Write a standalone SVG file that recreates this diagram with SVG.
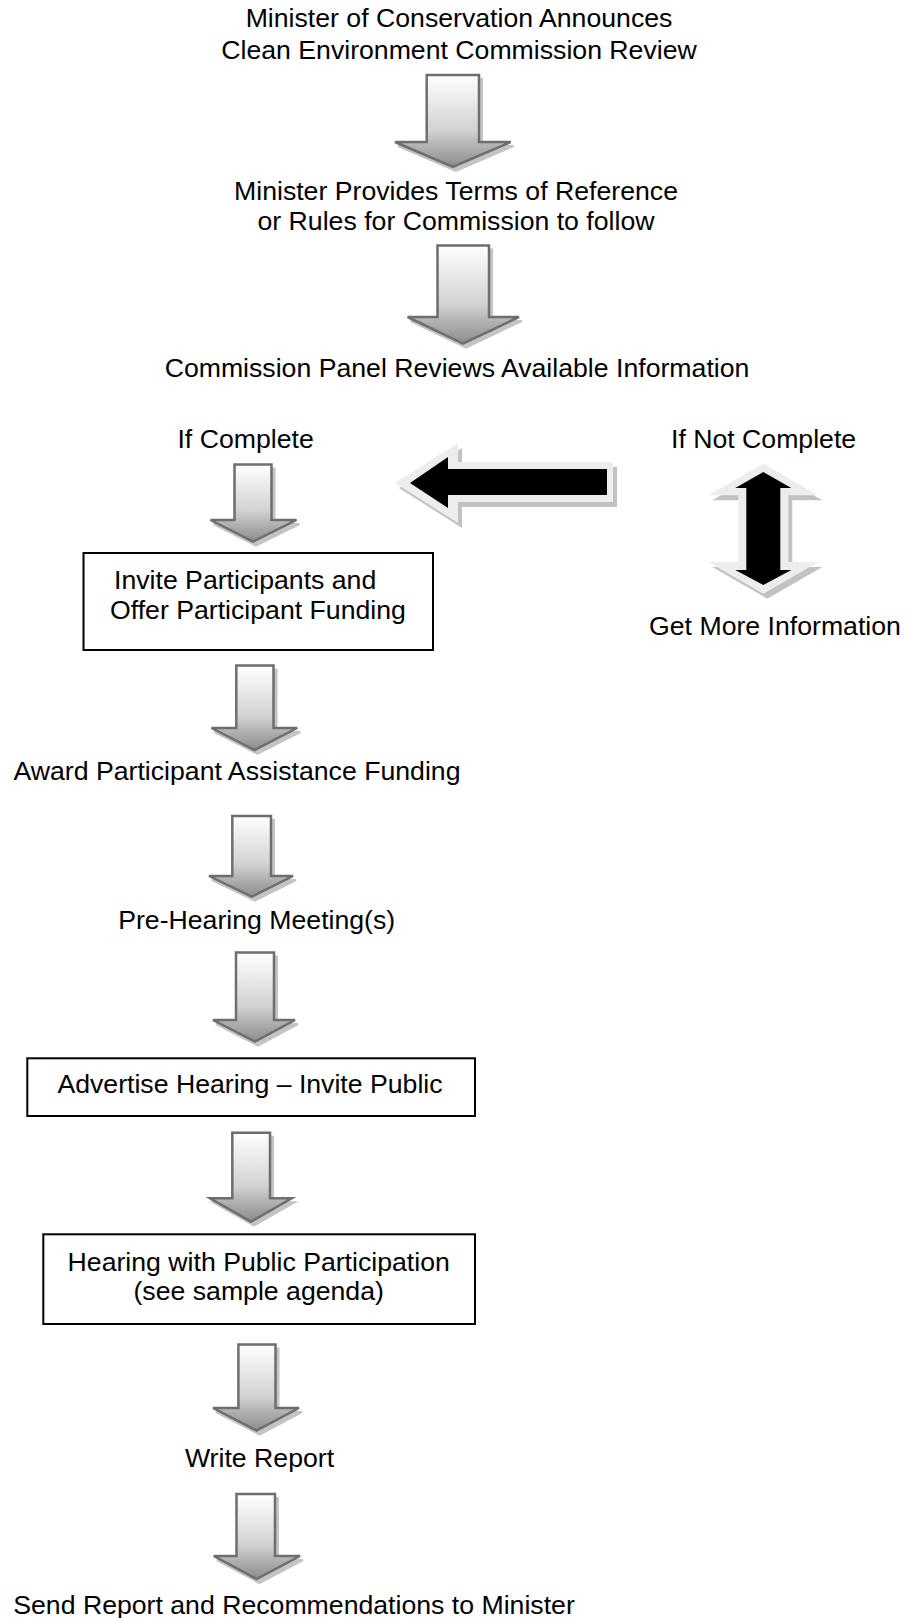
<svg xmlns="http://www.w3.org/2000/svg" xmlns:xlink="http://www.w3.org/1999/xlink" width="907" height="1618" viewBox="0 0 907 1618">
<style>
text{font-family:"Liberation Sans",Arial,sans-serif;font-size:26.67px;fill:#000}
.c{text-anchor:middle}
.box{fill:#fff;stroke:#000;stroke-width:2}
.ar{fill:url(#gr);stroke:#6e6e6e;stroke-width:2.5;stroke-linejoin:miter}
.sh{fill:#c4c4c4;stroke:#c4c4c4;stroke-width:2}
.lt{fill:#ededed}
.bsh{fill:#c2c2c2}
.blk{fill:#000}
</style>
<defs>
<linearGradient id="gr" x1="0" y1="0" x2="0" y2="1">
<stop offset="0" stop-color="#ffffff"/>
<stop offset="0.6" stop-color="#d2d2d2"/>
<stop offset="0.75" stop-color="#b6b6b6"/>
<stop offset="1" stop-color="#8c8c8c"/>
</linearGradient>
<polygon id="a1" points="426.7,75 479,75 479,142 510.7,142 452.8,167 395,142 426.7,142"/>
<polygon id="a2" points="437.5,245.6 489,245.6 489,317 519,317 463,343.6 407.6,317 437.5,317"/>
<polygon id="a3" points="234.5,464.4 271.5,464.4 271.5,520 296.5,520 253,541.7 210.5,520 234.5,520"/>
<polygon id="a4" points="236.3,665.6 273.5,665.6 273.5,728 297.2,728 254.5,750 211.5,728 236.3,728"/>
<polygon id="a5" points="232.3,816 271,816 271,876 293,876 251.7,896.7 209,876 232.3,876"/>
<polygon id="a6" points="236,952.5 274,952.5 274,1020 295,1020 255,1041.7 213,1020 236,1020"/>
<polygon id="a7" points="232.3,1132.7 270,1132.7 270,1198.3 291.7,1198.3 251,1221.7 210,1198.3 232.3,1198.3"/>
<polygon id="a8" points="238.4,1344.6 275.5,1344.6 275.5,1408 299,1408 256.5,1430.5 213,1408 238.4,1408"/>
<polygon id="a9" points="236.5,1494 275,1494 275,1556 300,1556 256.5,1579 213.8,1556 236.5,1556"/>
<polygon id="lo" points="395,483 458,443 458,462 613,462 613,502 458,502 458,523"/>
<polygon id="du" points="763.3,463.7 818.3,495.3 788.3,495.3 788.3,562 818.3,562 763.3,593.7 708.3,562 738.3,562 738.3,495.3 708.3,495.3"/>
</defs>

<g id="connectors">
<use href="#a1" class="sh" x="3" y="4"/><use href="#a1" class="ar"/>
<use href="#a2" class="sh" x="3" y="4"/><use href="#a2" class="ar"/>
<use href="#a3" class="sh" x="3" y="4"/><use href="#a3" class="ar"/>
<use href="#a4" class="sh" x="3" y="4"/><use href="#a4" class="ar"/>
<use href="#a5" class="sh" x="3" y="4"/><use href="#a5" class="ar"/>
<use href="#a6" class="sh" x="3" y="4"/><use href="#a6" class="ar"/>
<use href="#a7" class="sh" x="3" y="4"/><use href="#a7" class="ar"/>
<use href="#a8" class="sh" x="3" y="4"/><use href="#a8" class="ar"/>
<use href="#a9" class="sh" x="3" y="4"/><use href="#a9" class="ar"/>
<g id="left-arrow">
<use href="#lo" class="bsh" x="4" y="5"/><use href="#lo" class="lt"/>
<polygon class="blk" points="410,483 448,457 448,469 607,469 607,495 448,495 448,508"/>
</g>
<g id="double-arrow">
<use href="#du" class="bsh" x="4" y="5"/><use href="#du" class="lt"/>
<polygon class="blk" points="763.3,472 791.3,488 780.3,488 780.3,570 791.3,570 763.3,585 735.3,570 746.3,570 746.3,488 735.3,488"/>
</g>
</g>

<g id="n-announce"><text class="c" x="459" y="27">Minister of Conservation Announces</text><text class="c" x="459" y="58.5">Clean Environment Commission Review</text></g>
<g id="n-terms"><text class="c" x="456" y="199.5">Minister Provides Terms of Reference</text><text class="c" x="456" y="230">or Rules for Commission to follow</text></g>
<g id="n-review"><text class="c" x="457" y="377">Commission Panel Reviews Available Information</text></g>
<g id="n-complete"><text class="c" x="245.6" y="448">If Complete</text></g>
<g id="n-notcomplete"><text class="c" x="763.6" y="448">If Not Complete</text></g>
<g id="n-moreinfo"><text class="c" x="775" y="634.5">Get More Information</text></g>
<g id="n-invite"><rect class="box" x="83.5" y="553" width="349.5" height="97"/><text x="114" y="588.5">Invite Participants and</text><text x="110" y="618.5">Offer Participant Funding</text></g>
<g id="n-award"><text class="c" x="237" y="780">Award Participant Assistance Funding</text></g>
<g id="n-prehearing"><text class="c" x="256.7" y="929">Pre-Hearing Meeting(s)</text></g>
<g id="n-advertise"><rect class="box" x="27.3" y="1058.3" width="447.7" height="57.7"/><text class="c" x="250" y="1093.3">Advertise Hearing – Invite Public</text></g>
<g id="n-hearing"><rect class="box" x="43.3" y="1234.3" width="431.7" height="89.7"/><text class="c" x="258.7" y="1270.5">Hearing with Public Participation</text><text class="c" x="258.7" y="1300">(see sample agenda)</text></g>
<g id="n-write"><text class="c" x="259.5" y="1467">Write Report</text></g>
<g id="n-send"><text class="c" x="294" y="1614">Send Report and Recommendations to Minister</text></g>
</svg>
